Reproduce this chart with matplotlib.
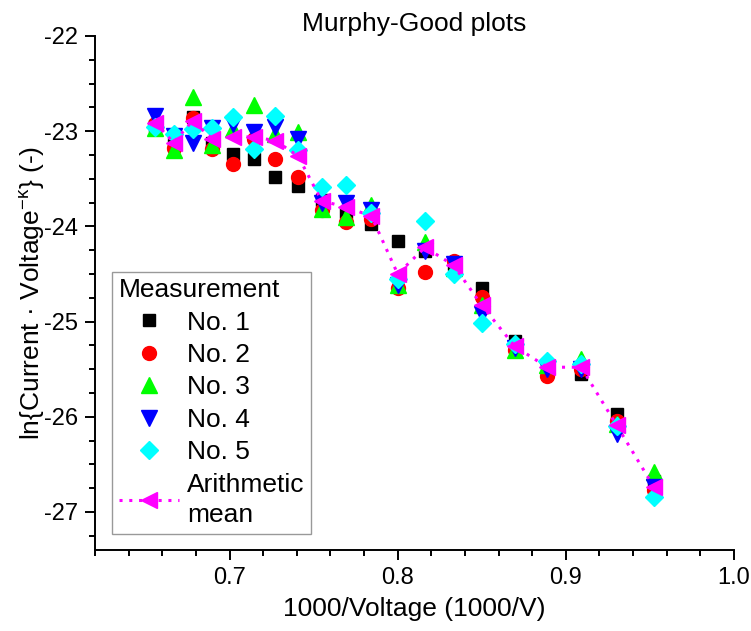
import matplotlib
matplotlib.use("Agg")
import matplotlib.pyplot as plt
from matplotlib.ticker import MultipleLocator

plt.rcParams['font.family'] = ['Liberation Sans', 'DejaVu Sans']
plt.rcParams['mathtext.fontset'] = 'custom'
plt.rcParams['mathtext.rm'] = 'Liberation Sans'
plt.rcParams['mathtext.it'] = 'Liberation Sans:italic'
plt.rcParams['axes.unicode_minus'] = False

# 1000/Voltage values (1000/V)
x_vals = [0.6557, 0.6667, 0.6780, 0.6897, 0.7018, 0.7143, 0.7273, 0.7407, 0.7547, 0.7692,
          0.7843, 0.8000, 0.8163, 0.8333, 0.8500, 0.8696, 0.8889, 0.9091, 0.9302, 0.9524]

no1 = [-22.95, -23.15, -22.85, -23.12, -23.24, -23.29, -23.48, -23.58, -23.72, -23.85,
       -23.98, -24.15, -24.26, -24.40, -24.65, -25.20, -25.50, -25.55, -25.97, -26.68]
no2 = [-22.92, -23.18, -22.86, -23.19, -23.35, -23.08, -23.29, -23.48, -23.83, -23.95,
       -23.92, -24.65, -24.48, -24.36, -24.74, -25.30, -25.57, -25.50, -26.04, -26.77]
no3 = [-22.97, -23.20, -22.64, -23.15, -22.98, -22.73, -23.03, -23.01, -23.82, -23.90,
       -23.78, -24.62, -24.16, -24.44, -24.83, -25.30, -25.46, -25.39, -26.08, -26.58]
no4 = [-22.84, -23.05, -23.12, -22.97, -22.93, -23.01, -22.96, -23.08, -23.75, -23.76,
       -23.83, -24.62, -24.26, -24.40, -24.92, -25.28, -25.50, -25.50, -26.18, -26.74]
no5 = [-22.96, -23.03, -22.98, -22.97, -22.85, -23.19, -22.84, -23.20, -23.59, -23.57,
       -23.86, -24.55, -23.94, -24.50, -25.02, -25.24, -25.41, -25.45, -26.10, -26.84]
mean = [-22.91, -23.12, -22.89, -23.08, -23.06, -23.06, -23.10, -23.26, -23.73, -23.80,
        -23.89, -24.50, -24.22, -24.41, -24.83, -25.26, -25.48, -25.48, -26.09, -26.74]

fig = plt.figure(figsize=(7.51, 6.31), dpi=100)
ax = fig.add_axes([0.1265, 0.1284, 0.8509, 0.8146])

ms = dict(linestyle='none')
ax.plot(x_vals, no1, marker='s', color='#000000', markersize=8.5, label='No. 1', **ms)
ax.plot(x_vals, no2, marker='o', color='#ff0000', markersize=10, label='No. 2', **ms)
ax.plot(x_vals, no3, marker='^', color='#00ff00', markersize=12, label='No. 3', **ms)
ax.plot(x_vals, no4, marker='v', color='#0000ff', markersize=12, label='No. 4', **ms)
ax.plot(x_vals, no5, marker='D', color='#00ffff', markersize=9, label='No. 5', **ms)
ax.plot(x_vals, mean, marker='<', color='#ff00ff', markersize=12, linestyle=(0, (1, 2.2)),
        linewidth=2.2, label='Arithmetic\nmean')

ax.set_xlim(0.62, 1.0)
ax.set_ylim(-27.4, -22)
ax.xaxis.set_minor_locator(MultipleLocator(0.02))
ax.yaxis.set_major_locator(MultipleLocator(1))
ax.yaxis.set_minor_locator(MultipleLocator(0.25))
ax.set_xticks([0.7, 0.8, 0.9, 1.0])
ax.set_xticklabels(['0.7', '0.8', '0.9', '1.0'])

for s in ['top', 'right']:
    ax.spines[s].set_visible(False)
for s in ['left', 'bottom']:
    ax.spines[s].set_linewidth(1.4)

ax.tick_params(which='major', direction='out', length=7, width=1.4, labelsize=17, pad=5)
ax.tick_params(which='minor', direction='out', length=4, width=1.4)

ax.set_xlabel('1000/Voltage (1000/V)', fontsize=19, labelpad=6)
ax.set_ylabel(r'ln{Current · Voltage$^{\mathrm{-\kappa}}$} (-)', fontsize=19, labelpad=-2)
ax.set_title('Murphy-Good plots', fontsize=19, pad=3)

leg = ax.legend(title='Measurement', loc='lower left', bbox_to_anchor=(0.0265, 0.031),
                borderaxespad=0, fontsize=19, title_fontsize=19, frameon=True,
                fancybox=False, edgecolor='#808080', handlelength=2.3, handletextpad=0.3,
                labelspacing=0.32, borderpad=0.25, alignment='left')
leg.get_frame().set_linewidth(1.0)
for t in leg.get_texts():
    t.set_linespacing(1.35)

fig.savefig('out.png', dpi=100)
